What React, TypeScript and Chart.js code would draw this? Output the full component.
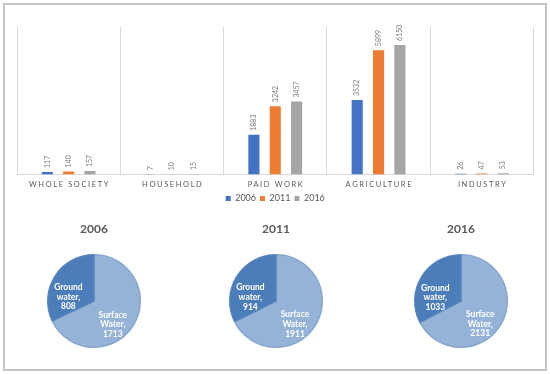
import React, { useEffect, useRef } from 'react';
import { Chart, registerables } from 'chart.js';

Chart.register(...registerables);

// ---------- Data ----------
const categories = ['WHOLE SOCIETY', 'HOUSEHOLD', 'PAID WORK', 'AGRICULTURE', 'INDUSTRY'];
const seriesYears = ['2006', '2011', '2016'];
const values2006 = [117, 7, 1883, 3532, 26];
const values2011 = [140, 10, 3242, 5899, 47];
const values2016 = [157, 15, 3457, 6150, 53];
const yAxisMax = 7000;

const pieYears = ['2006', '2011', '2016'];
const pieLabels = ['Surface Water', 'Ground water'];
const surfaceWater = [1713, 1911, 2131];
const groundWater = [808, 914, 1033];

// ---------- Styles ----------
const FONT = 'Lato, "Open Sans", sans-serif';
const barColors = ['#4472c4', '#ed7d31', '#a5a5a5'];
const pieColors = ['#95b3d7', '#4a7dba'];
const pieBorders = ['#86a6cf', '#5784bd'];
const pieCenters = [94, 276, 461];
const labelAngleShift = [19, -23.5];
const labelRadiusFactor = [0.65, 0.56];

function BarChart() {
  const ref = useRef<HTMLCanvasElement>(null);
  useEffect(() => {
    if (!ref.current) return;
    const valueLabels = {
      id: 'valueLabels',
      afterDatasetsDraw(chart: any) {
        const ctx = chart.ctx;
        ctx.save();
        ctx.fillStyle = '#7a7a7a';
        ctx.font = `7px ${FONT}`;
        ctx.textAlign = 'left';
        ctx.textBaseline = 'middle';
        chart.data.datasets.forEach((ds: any, di: number) => {
          const meta = chart.getDatasetMeta(di);
          meta.data.forEach((el: any, i: number) => {
            const { x, y } = el.getProps(['x', 'y'], true);
            ctx.save();
            ctx.translate(x, y - 4);
            ctx.rotate(-Math.PI / 2);
            ctx.fillText(String(ds.data[i]), 0, 0);
            ctx.restore();
          });
        });
        ctx.restore();
      },
    };
    const categoryLabels = {
      id: 'categoryLabels',
      afterDraw(chart: any) {
        const xs = chart.scales.x;
        const ctx = chart.ctx;
        ctx.save();
        ctx.font = `7.5px ${FONT}`;
        ctx.fillStyle = '#595959';
        ctx.textAlign = 'center';
        ctx.textBaseline = 'middle';
        (ctx as any).letterSpacing = '1.6px';
        categories.forEach((c, i) => {
          ctx.fillText(c, xs.getPixelForValue(i) + 0.8, xs.top + 10);
        });
        ctx.restore();
      },
    };
    const chart = new Chart(ref.current, {
      type: 'bar',
      data: {
        labels: categories,
        datasets: [
          { label: seriesYears[0], data: values2006, backgroundColor: barColors[0] },
          { label: seriesYears[1], data: values2011, backgroundColor: barColors[1] },
          { label: seriesYears[2], data: values2016, backgroundColor: barColors[2] },
        ],
      },
      options: {
        animation: false,
        responsive: true,
        maintainAspectRatio: false,
        layout: { padding: { left: 17, right: 16.5, top: 27, bottom: 0 } },
        datasets: { bar: { categoryPercentage: 0.62, barPercentage: 0.52 } },
        scales: {
          x: {
            grid: { display: true, offset: true, color: '#d9d9d9', drawTicks: false, lineWidth: 1 },
            border: { display: true, color: '#d9d9d9' },
            ticks: { color: 'rgba(0,0,0,0)', font: { size: 8, family: FONT }, padding: 3, maxRotation: 0, autoSkip: false },
          },
          y: { display: false, min: 0, max: yAxisMax },
        },
        plugins: {
          legend: {
            display: true,
            position: 'bottom',
            labels: {
              boxWidth: 5,
              boxHeight: 5,
              padding: 4,
              color: '#595959',
              font: { size: 9, family: FONT },
            },
          },
          tooltip: { enabled: false },
        },
      },
      plugins: [valueLabels, categoryLabels],
    } as any);
    return () => chart.destroy();
  }, []);
  return (
    <div style={{ position: 'absolute', left: 0, top: 0, width: 550, height: 213 }}>
      <canvas ref={ref} />
    </div>
  );
}

function PieChart({ index }: { index: number }) {
  const ref = useRef<HTMLCanvasElement>(null);
  useEffect(() => {
    if (!ref.current) return;
    const sliceLabels = {
      id: 'sliceLabels',
      afterDatasetsDraw(chart: any) {
        const ctx = chart.ctx;
        const meta = chart.getDatasetMeta(0);
        const ds = chart.data.datasets[0];
        ctx.save();
        ctx.fillStyle = '#ffffff';
        ctx.font = `bold 8.5px ${FONT}`;
        ctx.textAlign = 'center';
        ctx.textBaseline = 'middle';
        meta.data.forEach((arc: any, i: number) => {
          const { x, y, startAngle, endAngle, outerRadius } = arc.getProps(
            ['x', 'y', 'startAngle', 'endAngle', 'outerRadius'],
            true
          );
          const mid = (startAngle + endAngle) / 2 + (labelAngleShift[i] * Math.PI) / 180;
          const r = outerRadius * labelRadiusFactor[i];
          const cx = x + Math.cos(mid) * r;
          const cy = y + Math.sin(mid) * r;
          const words = String(chart.data.labels[i]).split(' ');
          const lines = [words[0], words.slice(1).join(' ') + ',', String(ds.data[i])];
          const lh = 9.6;
          lines.forEach((ln, k) => {
            ctx.fillText(ln, cx, cy + (k - (lines.length - 1) / 2) * lh);
          });
        });
        ctx.restore();
      },
    };
    const chart = new Chart(ref.current, {
      type: 'pie',
      data: {
        labels: pieLabels,
        datasets: [
          {
            data: [surfaceWater[index], groundWater[index]],
            backgroundColor: pieColors,
            borderColor: pieBorders,
            borderWidth: 1.5,
          },
        ],
      },
      options: {
        animation: false,
        responsive: true,
        maintainAspectRatio: false,
        layout: { padding: { left: 23, right: 23, top: 0, bottom: 2 } },
        plugins: {
          legend: { display: false },
          tooltip: { enabled: false },
          title: {
            display: true,
            text: pieYears[index],
            color: '#595959',
            font: { size: 12, weight: 'bold', family: FONT },
            padding: { top: 6.8, bottom: 17.8 },
          },
        },
      },
      plugins: [sliceLabels],
    } as any);
    return () => chart.destroy();
  }, [index]);
  return (
    <div style={{ position: 'absolute', left: pieCenters[index] - 70, top: 215, width: 140, height: 135 }}>
      <canvas ref={ref} />
    </div>
  );
}

export default function App() {
  return (
    <div
      style={{
        position: 'fixed',
        left: 0,
        top: 0,
        width: 550,
        height: 374,
        background: '#ffffff',
        overflow: 'hidden',
      }}
    >
      <div
        style={{
          position: 'absolute',
          left: 3,
          top: 3,
          width: 544,
          height: 368,
          border: '2px solid #c4c4c4',
          boxSizing: 'border-box',
        }}
      />
      <BarChart />
      <PieChart index={0} />
      <PieChart index={1} />
      <PieChart index={2} />
    </div>
  );
}
